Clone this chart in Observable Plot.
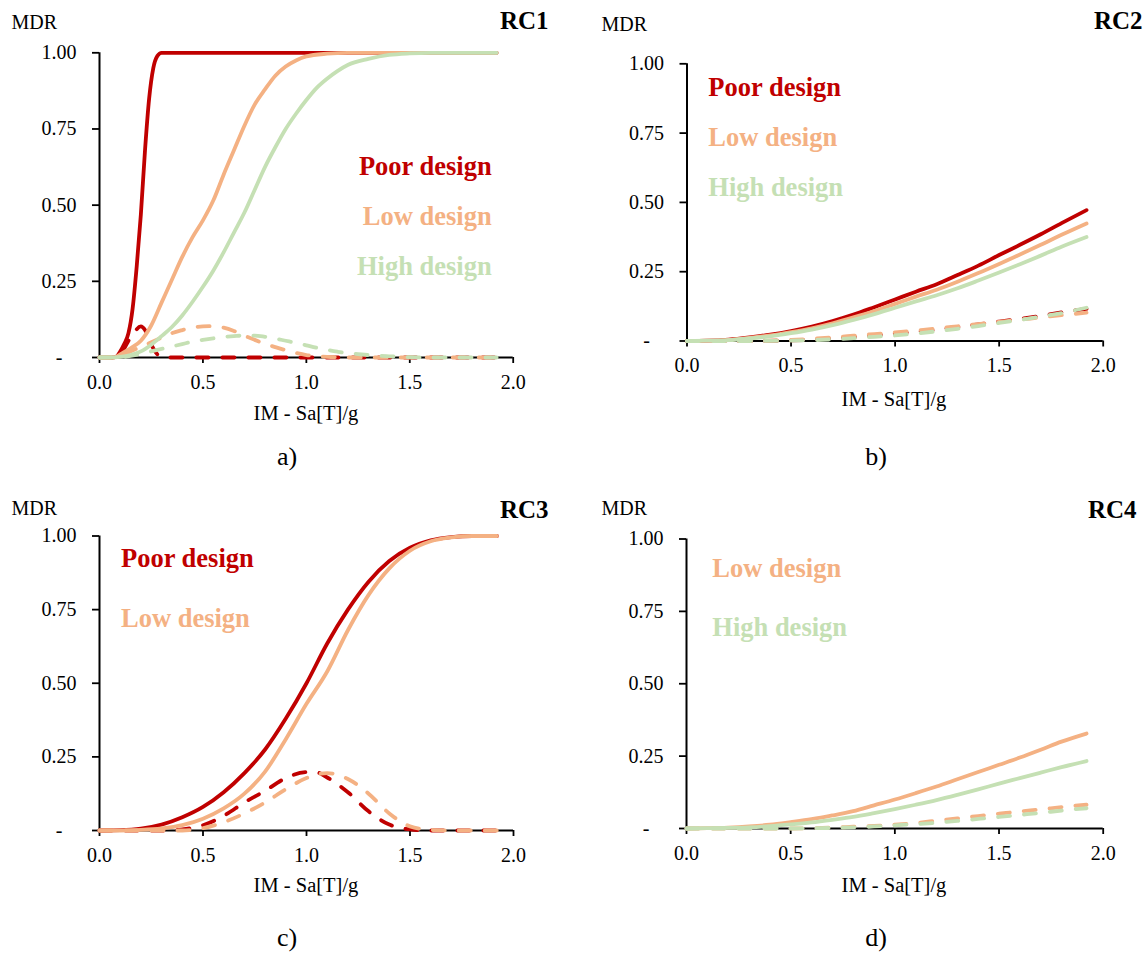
<!DOCTYPE html>
<html><head><meta charset="utf-8">
<script src="https://cdn.jsdelivr.net/npm/d3@7"></script>
<script src="https://cdn.jsdelivr.net/npm/@observablehq/plot@0.6"></script>
<style>
html,body{margin:0;padding:0;background:#fff;}
#root{position:relative;width:1146px;height:957px;overflow:hidden;background:#fff;}
#root > svg{position:absolute;overflow:visible;}
</style></head><body><div id="root"></div>
<script>
// ---- tick labels & text ----
const xTicks = [0, 0.5, 1, 1.5, 2];
const xTickLabels = ["0.0", "0.5", "1.0", "1.5", "2.0"];
const yTicks = [0, 0.25, 0.5, 0.75, 1];
const yTickLabels = ["-\u00a0\u00a0\u2009", "0.25", "0.50", "0.75", "1.00"];
const designs = ["Poor design", "Low design", "High design"];
const designColors = ["#C00000", "#F4B183", "#C5E0B4"];
const panelTitles = ["RC1", "RC2", "RC3", "RC4"];
const panelLetters = ["a)", "b)", "c)", "d)"];
const yLabel = "MDR";
const xLabel = "IM - Sa[T]/g";

// ---- RC1 ----
const rc1PoorMean = [[0,0],[0.06,0],[0.08,0.002],[0.1,0.02],[0.12,0.045],[0.14,0.08],[0.16,0.16],[0.18,0.3],[0.2,0.47],[0.22,0.68],[0.24,0.85],[0.26,0.95],[0.28,0.99],[0.3,1],[0.4,1],[1,1],[1.5,1],[1.92,1]];
const rc1PoorSd = [[0,0],[0.08,0],[0.1,0.01],[0.12,0.03],[0.14,0.055],[0.17,0.085],[0.2,0.102],[0.22,0.09],[0.24,0.06],[0.26,0.03],[0.28,0.01],[0.3,0.002],[0.35,0],[1,0],[1.5,0],[1.92,0]];
const rc1LowMean = [[0,0],[0.06,0],[0.08,0.002],[0.1,0.01],[0.15,0.03],[0.2,0.055],[0.25,0.105],[0.3,0.18],[0.35,0.255],[0.4,0.33],[0.45,0.395],[0.5,0.45],[0.55,0.515],[0.6,0.6],[0.65,0.68],[0.7,0.76],[0.75,0.83],[0.8,0.88],[0.85,0.925],[0.9,0.955],[0.95,0.975],[1,0.988],[1.1,0.997],[1.2,1],[1.5,1],[1.92,1]];
const rc1LowSd = [[0,0],[0.08,0],[0.1,0.005],[0.15,0.02],[0.2,0.035],[0.25,0.05],[0.3,0.065],[0.35,0.08],[0.4,0.09],[0.45,0.098],[0.5,0.102],[0.55,0.103],[0.6,0.098],[0.65,0.087],[0.7,0.072],[0.75,0.058],[0.8,0.045],[0.85,0.034],[0.9,0.024],[0.95,0.015],[1,0.008],[1.05,0.004],[1.1,0.002],[1.2,0],[1.5,0],[1.92,0]];
const rc1HighMean = [[0,0],[0.05,0],[0.1,0.002],[0.15,0.008],[0.2,0.02],[0.25,0.042],[0.3,0.07],[0.35,0.1],[0.4,0.138],[0.45,0.183],[0.5,0.232],[0.55,0.285],[0.6,0.345],[0.65,0.41],[0.7,0.475],[0.75,0.55],[0.8,0.625],[0.85,0.69],[0.9,0.75],[0.95,0.8],[1,0.845],[1.05,0.885],[1.1,0.915],[1.15,0.94],[1.2,0.96],[1.3,0.98],[1.4,0.993],[1.5,0.998],[1.6,1],[1.92,1]];
const rc1HighSd = [[0,0],[0.1,0.001],[0.15,0.005],[0.2,0.012],[0.25,0.02],[0.3,0.028],[0.35,0.036],[0.4,0.044],[0.45,0.052],[0.5,0.058],[0.55,0.063],[0.6,0.067],[0.65,0.07],[0.7,0.072],[0.75,0.072],[0.8,0.068],[0.85,0.062],[0.9,0.055],[0.95,0.048],[1,0.04],[1.05,0.032],[1.1,0.025],[1.15,0.019],[1.2,0.014],[1.25,0.011],[1.3,0.008],[1.4,0.004],[1.5,0.001],[1.6,0],[1.92,0]];

// ---- RC2 ----
const rc2PoorMean = [[0,0],[0.1,0.001],[0.2,0.005],[0.3,0.013],[0.4,0.023],[0.5,0.036],[0.6,0.052],[0.7,0.072],[0.8,0.095],[0.9,0.122],[1,0.15],[1.1,0.178],[1.2,0.205],[1.3,0.238],[1.4,0.272],[1.5,0.31],[1.6,0.347],[1.7,0.385],[1.8,0.425],[1.92,0.472]];
const rc2PoorSd = [[0,0],[0.3,0],[0.5,0.002],[0.6,0.005],[0.7,0.009],[0.8,0.014],[0.9,0.02],[1,0.026],[1.1,0.033],[1.2,0.041],[1.3,0.05],[1.4,0.06],[1.5,0.07],[1.6,0.08],[1.7,0.091],[1.8,0.103],[1.92,0.116]];
const rc2LowMean = [[0,0],[0.1,0.001],[0.2,0.004],[0.3,0.011],[0.4,0.02],[0.5,0.032],[0.6,0.046],[0.7,0.064],[0.8,0.085],[0.9,0.108],[1,0.134],[1.1,0.16],[1.2,0.185],[1.3,0.214],[1.4,0.245],[1.5,0.278],[1.6,0.312],[1.7,0.347],[1.8,0.383],[1.92,0.424]];
const rc2LowSd = [[0,0],[0.3,0],[0.5,0.004],[0.6,0.008],[0.7,0.013],[0.8,0.019],[0.9,0.025],[1,0.031],[1.1,0.038],[1.2,0.045],[1.3,0.053],[1.4,0.061],[1.5,0.069],[1.6,0.077],[1.7,0.085],[1.8,0.093],[1.92,0.102]];
const rc2HighMean = [[0,0],[0.1,0.001],[0.2,0.003],[0.3,0.009],[0.4,0.017],[0.5,0.028],[0.6,0.041],[0.7,0.057],[0.8,0.076],[0.9,0.097],[1,0.12],[1.1,0.143],[1.2,0.165],[1.3,0.19],[1.4,0.218],[1.5,0.247],[1.6,0.277],[1.7,0.308],[1.8,0.34],[1.92,0.375]];
const rc2HighSd = [[0,0],[0.3,0],[0.5,0.001],[0.6,0.003],[0.7,0.006],[0.8,0.01],[0.9,0.015],[1,0.02],[1.1,0.027],[1.2,0.035],[1.3,0.044],[1.4,0.054],[1.5,0.065],[1.6,0.076],[1.7,0.088],[1.8,0.101],[1.92,0.12]];

// ---- RC3 ----
const rc3PoorMean = [[0,0],[0.1,0.001],[0.2,0.006],[0.3,0.02],[0.4,0.045],[0.5,0.08],[0.6,0.13],[0.7,0.195],[0.8,0.275],[0.9,0.38],[1,0.5],[1.1,0.635],[1.2,0.75],[1.3,0.845],[1.4,0.915],[1.5,0.96],[1.6,0.985],[1.7,0.996],[1.8,1],[1.92,1]];
const rc3PoorSd = [[0,0],[0.3,0],[0.4,0.004],[0.5,0.018],[0.6,0.05],[0.7,0.095],[0.8,0.135],[0.9,0.178],[1,0.198],[1.05,0.197],[1.1,0.18],[1.2,0.13],[1.3,0.065],[1.4,0.02],[1.5,0.004],[1.6,0],[1.92,0]];
const rc3LowMean = [[0,0],[0.1,0],[0.2,0.002],[0.3,0.007],[0.4,0.018],[0.5,0.04],[0.6,0.075],[0.7,0.125],[0.8,0.2],[0.9,0.31],[1,0.43],[1.1,0.54],[1.2,0.68],[1.3,0.8],[1.4,0.89],[1.5,0.95],[1.6,0.982],[1.7,0.995],[1.8,1],[1.92,1]];
const rc3LowSd = [[0,0],[0.4,0],[0.5,0.008],[0.6,0.028],[0.7,0.058],[0.8,0.095],[0.9,0.14],[1,0.178],[1.1,0.195],[1.2,0.175],[1.3,0.125],[1.4,0.058],[1.5,0.014],[1.6,0.002],[1.7,0],[1.92,0]];

// ---- RC4 ----
const rc4LowMean = [[0,0],[0.1,0.001],[0.2,0.003],[0.3,0.007],[0.4,0.013],[0.5,0.022],[0.6,0.032],[0.7,0.045],[0.8,0.06],[0.9,0.08],[1,0.1],[1.1,0.122],[1.2,0.145],[1.3,0.17],[1.4,0.195],[1.5,0.22],[1.6,0.245],[1.7,0.272],[1.8,0.3],[1.92,0.328]];
const rc4LowSd = [[0,0],[0.5,0],[0.6,0.001],[0.7,0.003],[0.8,0.006],[0.9,0.009],[1,0.013],[1.1,0.019],[1.2,0.027],[1.3,0.035],[1.4,0.043],[1.5,0.051],[1.6,0.059],[1.7,0.066],[1.8,0.074],[1.92,0.082]];
const rc4HighMean = [[0,0],[0.1,0.001],[0.2,0.002],[0.3,0.004],[0.4,0.008],[0.5,0.014],[0.6,0.021],[0.7,0.03],[0.8,0.04],[0.9,0.053],[1,0.067],[1.1,0.082],[1.2,0.098],[1.3,0.116],[1.4,0.135],[1.5,0.155],[1.6,0.174],[1.7,0.193],[1.8,0.212],[1.92,0.233]];
const rc4HighSd = [[0,0],[0.5,0],[0.6,0.001],[0.7,0.002],[0.8,0.004],[0.9,0.007],[1,0.011],[1.1,0.015],[1.2,0.02],[1.3,0.026],[1.4,0.033],[1.5,0.04],[1.6,0.047],[1.7,0.054],[1.8,0.062],[1.92,0.07]];

// ---- panel assembly ----
const panels = [
  {series: [[0,"m",rc1PoorMean],[0,"s",rc1PoorSd],[1,"m",rc1LowMean],[1,"s",rc1LowSd],[2,"m",rc1HighMean],[2,"s",rc1HighSd]], legend: [0,1,2]},
  {series: [[0,"m",rc2PoorMean],[0,"s",rc2PoorSd],[1,"m",rc2LowMean],[1,"s",rc2LowSd],[2,"m",rc2HighMean],[2,"s",rc2HighSd]], legend: [0,1,2]},
  {series: [[0,"m",rc3PoorMean],[0,"s",rc3PoorSd],[1,"m",rc3LowMean],[1,"s",rc3LowSd]], legend: [0,1]},
  {series: [[1,"m",rc4LowMean],[1,"s",rc4LowSd],[2,"m",rc4HighMean],[2,"s",rc4HighSd]], legend: [1,2]}
];

// layout (pixels)
const layout = [
  {left:0,   top:0,   w:573, h:480, ml:99,  mr:60.3, mt:52.3, mb:123,
   mdr:[11.5,28.5], rc:[500,29], xt:[306,420], let:[287,465], leg:{x:491.7, y0:175, dy:50, anchor:"end"}},
  {left:573, top:0,   w:573, h:480, ml:113.5, mr:43.3, mt:63.3, mb:139.5,
   mdr:[601.5,31], rc:[1094,29], xt:[894,406], let:[876,465], leg:{x:708.3, y0:95.7, dy:50, anchor:"start"}},
  {left:0,   top:480, w:573, h:477, ml:99,  mr:60,   mt:55.5, mb:127,
   mdr:[11.5,515], rc:[500,518], xt:[306,892], let:[287,946], leg:{x:121, y0:567.3, dy:59.4, anchor:"start"}},
  {left:573, top:480, w:573, h:477, ml:113,  mr:43.3, mt:58.5, mb:129,
   mdr:[601.5,515], rc:[1088,517.5], xt:[894,892], let:[876,946], leg:{x:712.3, y0:576.7, dy:59.3, anchor:"start"}}
];

const FONT = "'Liberation Serif', 'Times New Roman', Times, serif";
const xFmt = new Map(xTicks.map((t, i) => [t, xTickLabels[i]]));
const yFmt = new Map(yTicks.map((t, i) => [t, yTickLabels[i]]));
const root = document.getElementById("root");

panels.forEach((p, k) => {
  const L = layout[k];
  const marks = [
    Plot.ruleY([0], {stroke: "#000", strokeWidth: 2}),
    Plot.ruleX([0], {stroke: "#000", strokeWidth: 2}),
    Plot.axisX({ticks: xTicks, tickFormat: d => xFmt.get(d), tickSize: 6, tickPadding: 11, label: null, strokeWidth: 1.8}),
    Plot.axisY({ticks: yTicks, tickFormat: d => yFmt.get(d), tickSize: 7, tickPadding: 16, label: null, strokeWidth: 1.8})
  ];
  p.series.forEach(([di, kind, data]) => {
    marks.push(Plot.line(data, {
      x: d => d[0], y: d => d[1],
      stroke: designColors[di], strokeWidth: 3.8,
      curve: "monotone-x",
      strokeDasharray: kind === "s" ? "12,14" : null,
      strokeLinecap: "round", strokeLinejoin: "round"
    }));
  });
  const svg = Plot.plot({
    width: L.w, height: L.h,
    marginLeft: L.ml, marginRight: L.mr, marginTop: L.mt, marginBottom: L.mb,
    x: {domain: [0, 2]},
    y: {domain: [0, 1]},
    style: {fontFamily: FONT, fontSize: "20px", color: "#000", background: "transparent"},
    marks
  });
  svg.style.left = L.left + "px";
  svg.style.top = L.top + "px";
  root.appendChild(svg);
});

// text overlay
const ov = d3.select(root).append("svg")
  .attr("width", 1146).attr("height", 957)
  .style("left", "0px").style("top", "0px")
  .style("font-family", FONT);

panels.forEach((p, k) => {
  const L = layout[k];
  ov.append("text").attr("x", L.mdr[0]).attr("y", L.mdr[1]).attr("font-size", 20).text(yLabel);
  ov.append("text").attr("x", L.rc[0]).attr("y", L.rc[1]).attr("font-size", 25).attr("font-weight", "bold").text(panelTitles[k]);
  ov.append("text").attr("x", L.xt[0]).attr("y", L.xt[1]).attr("font-size", 20.5).attr("text-anchor", "middle").text(xLabel);
  ov.append("text").attr("x", L.let[0]).attr("y", L.let[1]).attr("font-size", 26).attr("text-anchor", "middle").text(panelLetters[k]);
  p.legend.forEach((di, j) => {
    ov.append("text")
      .attr("x", L.leg.x).attr("y", L.leg.y0 + j * L.leg.dy)
      .attr("font-size", 26.5).attr("font-weight", "bold")
      .attr("text-anchor", L.leg.anchor)
      .attr("fill", designColors[di])
      .text(designs[di]);
  });
});
</script>
</body></html>
